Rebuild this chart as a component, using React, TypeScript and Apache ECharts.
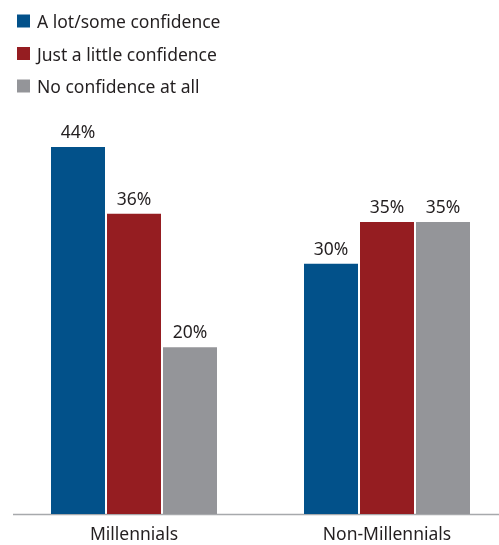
import React, { useEffect, useRef } from "react";
import * as echarts from "echarts";

const categories = ["Millennials", "Non-Millennials"];
const seriesNames = ["A lot/some confidence", "Just a little confidence", "No confidence at all"];
const aLotSome = [44, 30];
const justALittle = [36, 35];
const noConfidence = [20, 35];
const colors = ["#02518A", "#951D21", "#949599"];

export default function App() {
  const ref = useRef<HTMLDivElement>(null);
  useEffect(() => {
    const chart = echarts.init(ref.current!, null, { renderer: "svg" });
    const font = "'Noto Sans', sans-serif";
    const label = {
      show: true,
      position: "top",
      distance: 7,
      formatter: "{c}%",
      color: "#231F20",
      fontSize: 17.5,
      fontFamily: font,
    };
    const datas = [aLotSome, justALittle, noConfidence];
    chart.setOption({
      animation: false,
      legend: {
        orient: "vertical",
        left: 12,
        top: 6,
        itemWidth: 13,
        itemHeight: 13,
        itemGap: 12.5,
        icon: "rect",
        textStyle: { fontSize: 17.5, fontFamily: font, color: "#231F20", lineHeight: 20, padding: [0, 0, 0, 2] },
        data: seriesNames,
      },
      grid: { left: 7.5, top: 147, width: 506, height: 367 },
      xAxis: {
        type: "category",
        data: categories,
        axisLine: { show: false },
        axisTick: { show: false },
        axisLabel: { fontSize: 17.5, fontFamily: font, color: "#231F20", margin: 10, lineHeight: 18 },
      },
      yAxis: { type: "value", min: 0, max: 44, show: false, splitLine: { show: false } },
      graphic: [
        {
          type: "line",
          shape: { x1: 13, y1: 514.5, x2: 514, y2: 514.5 },
          style: { stroke: "#A7A9AC", lineWidth: 1.5 },
        },
      ],
      series: seriesNames.map((name, i) => ({
        name,
        type: "bar",
        data: datas[i],
        barWidth: 54,
        barGap: "3.7%",
        itemStyle: { color: colors[i] },
        label,
      })),
    });
    return () => chart.dispose();
  }, []);
  return <div ref={ref} style={{ position: "fixed", left: 0, top: 0, width: 514, height: 545 }} />;
}
